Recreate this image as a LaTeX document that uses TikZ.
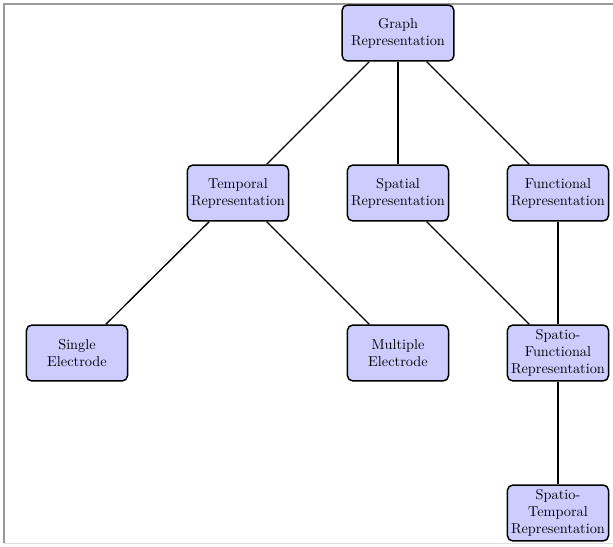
\documentclass[tikz,border=0pt]{standalone}
\begin{document}
\begin{tikzpicture}[x=0.747pt,y=-0.747pt,
  box/.style={draw, line width=1.1pt, rounded corners=4pt, fill=blue!20, align=center,
    minimum width=75.5pt, minimum height=41.8pt, inner sep=2pt, text=black,
    font=\fontsize{10.7}{12.7}\selectfont},
  link/.style={line width=1pt},
  heavy/.style={line width=2pt}]
\useasboundingbox (0,0) rectangle (613,547);
\draw[gray!80, line width=0.8pt] (613,4) -- (4,4) -- (4,543);
\draw[gray!25, line width=0.6pt] (4,543) -- (613,543);
\node[box, minimum width=83.5pt] (graph) at (398,33) {Graph\\Representation};
\node[box] (temp) at (238,193) {Temporal\\Representation};
\node[box] (spat) at (398,193) {Spatial\\Representation};
\node[box] (func) at (558,193) {Functional\\Representation};
\node[box] (single) at (77,353) {Single\\Electrode};
\node[box] (multi) at (398,353) {Multiple\\Electrode};
\node[box] (sf) at (558,353) {Spatio-\\Functional\\Representation};
\node[box] (st) at (558,513) {Spatio-\\Temporal\\Representation};
\draw[link] (graph) -- (temp);
\draw[link, line width=1.5pt] (graph) -- (spat);
\draw[link] (graph) -- (func);
\draw[link] (temp) -- (single);
\draw[link] (temp) -- (multi);
\draw[link] (spat) -- (sf);
\draw[heavy] (func) -- (sf);
\draw[heavy] (sf) -- (st);
\end{tikzpicture}
\end{document}
